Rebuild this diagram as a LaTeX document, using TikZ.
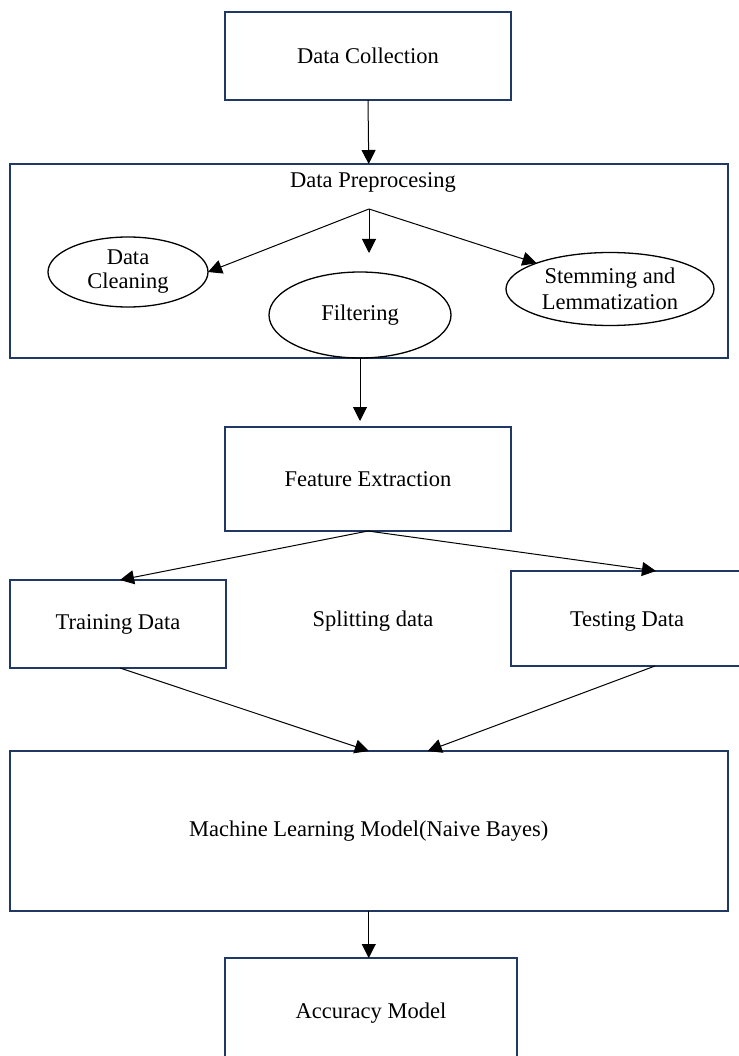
\documentclass[tikz,border=0pt]{standalone}
\usepackage{fontspec}
\setmainfont{Liberation Serif}
\usetikzlibrary{arrows.meta,shapes.geometric}
\definecolor{boxnavy}{HTML}{1F3864}
\begin{document}
\begin{tikzpicture}[x=1pt,y=-1pt,
  box/.style={draw=boxnavy, line width=2pt, rectangle, inner sep=0pt, outer sep=0pt, align=center},
  oval/.style={draw=black, line width=1.3pt, ellipse, inner sep=0pt, outer sep=0pt, align=center},
  flow/.style={-{Triangle[length=14pt,width=14pt]}, line width=1pt},
  lbl/.style={inner sep=0pt, align=center}]
\useasboundingbox (0,0) rectangle (738,1056);
\fontsize{22.5}{25}\selectfont

% main stages
\node[box, minimum width=286pt, minimum height=88pt] (collect) at (368,56) {Data Collection};
\node[box, minimum width=717.5pt, minimum height=194pt] (prep) at (368.75,261) {};
\node[lbl] (preptitle) at (373,182) {Data Preprocesing};

% preprocessing steps
\coordinate (branch) at (369,209);
\node[oval, minimum width=160pt, minimum height=70pt] (clean) at (128,272) {Data\\[-1pt]Cleaning};
\node[oval, minimum width=182pt, minimum height=86pt] (filter) at (360,315) {Filtering};
\node[oval, minimum width=208pt, minimum height=73pt] (stem) at (610,289) {Stemming and\\[1pt]Lemmatization};
\coordinate (filterend) at (369,253);

\node[box, minimum width=286pt, minimum height=104pt] (feat) at (368,479) {Feature Extraction};

% data split
\node[box, minimum width=216pt, minimum height=88pt] (train) at (118,624) {Training Data};
\node[box, minimum width=290pt, minimum height=95pt] (test) at (656,618.5) {};
\node[lbl] (testlbl) at (627,621) {Testing Data};
\node[lbl] (split) at (373,621) {Splitting data};

\node[box, minimum width=717.5pt, minimum height=160pt] (ml) at (368.75,831) {Machine Learning Model(Naive Bayes)};
\node[box, minimum width=292pt, minimum height=110pt] (acc) at (371,1013) {Accuracy Model};

% connectors
\draw[flow] (collect.south) -- (prep.north);
\draw[flow] (branch) -- (clean.east);
\draw[flow] (branch) -- (filterend);
\draw[flow] (branch) -- (stem.north west);
\draw[flow] ([xshift=-8.75pt]prep.south) -- ([xshift=-8pt,yshift=6pt]feat.north);
\draw[flow] (feat.south) -- ([xshift=2pt]train.north);
\draw[flow] (feat.south) -- (test.north);
\draw[flow] ([xshift=2pt]train.south) -- (ml.north);
\draw[flow] ([xshift=-1pt]test.south) -- ([xshift=59pt]ml.north);
\draw[flow] (ml.south) -- (ml.south |- acc.north);
\end{tikzpicture}
\end{document}
